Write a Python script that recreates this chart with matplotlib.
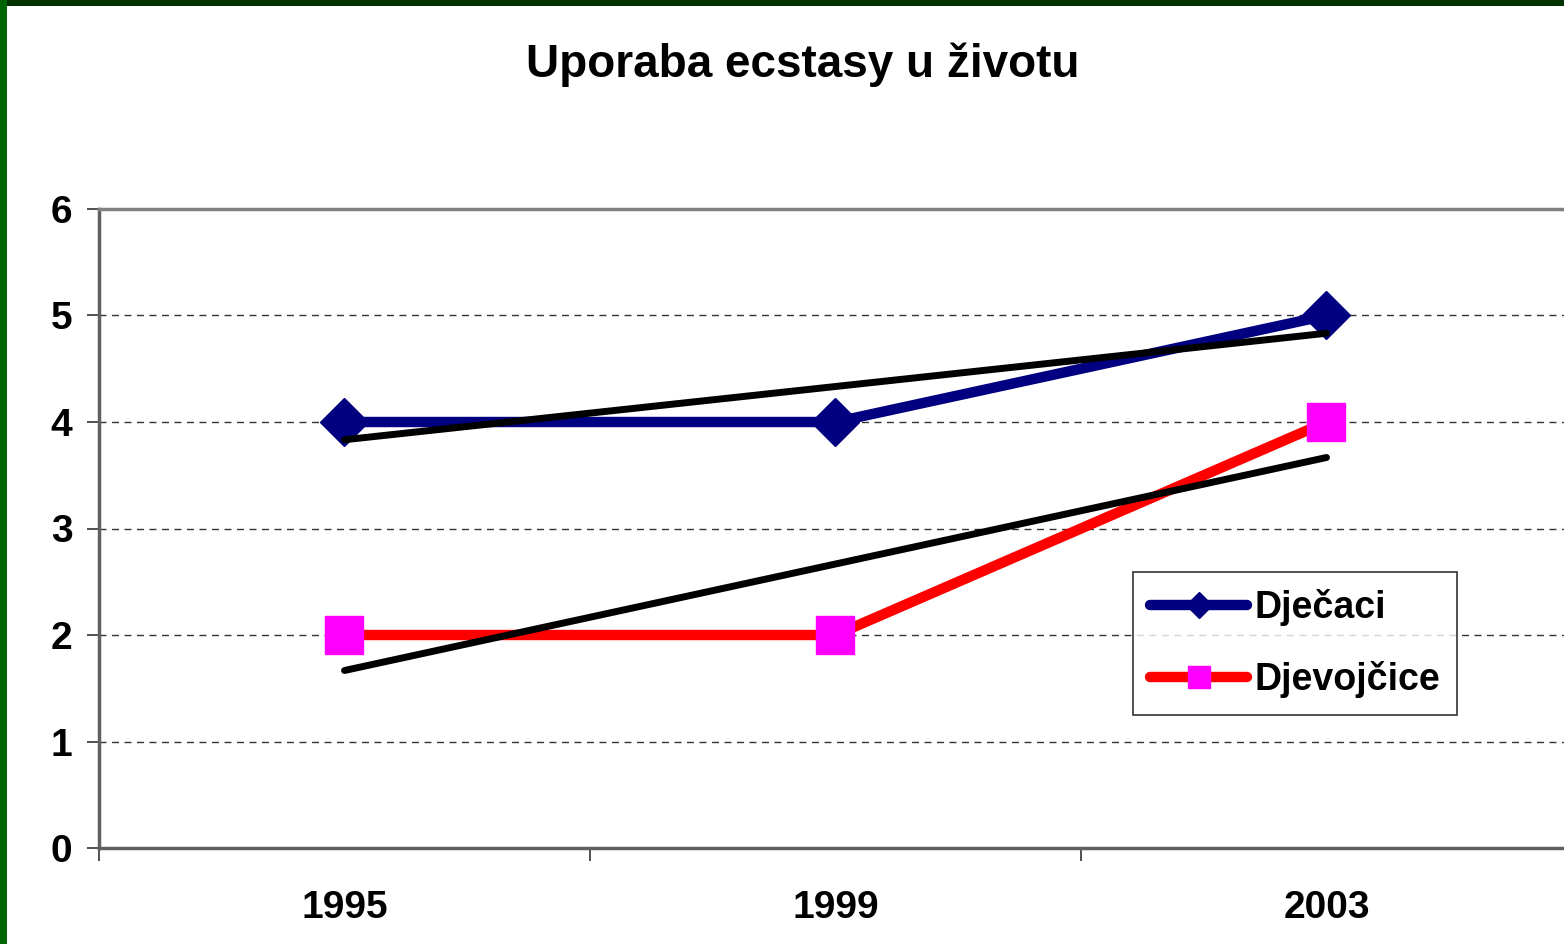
import matplotlib
matplotlib.use("Agg")
import matplotlib.pyplot as plt
from matplotlib.patches import Rectangle
import numpy as np

# data
years = ["1995", "1999", "2003"]
djecaci = [4, 4, 5]
djevojcice = [2, 2, 4]
y_ticks = [0, 1, 2, 3, 4, 5, 6]

plt.rcParams['font.family'] = ['Liberation Sans', 'DejaVu Sans']
plt.rcParams['font.weight'] = 'bold'


def draw():
    fig = plt.figure(figsize=(15.64, 9.44), dpi=100, facecolor='white')

    # slide frame (dark green strip on top and left)
    fig.patches.append(Rectangle((0, 1 - 6 / 944), 1, 6 / 944, transform=fig.transFigure,
                                 facecolor='#003300', edgecolor='none', zorder=0))
    fig.patches.append(Rectangle((0, 0), 7 / 1564, 1, transform=fig.transFigure,
                                 facecolor='#006400', edgecolor='none', zorder=0))

    ax = fig.add_axes([99 / 1564, 96 / 944, 1473 / 1564, 639 / 944])
    x = np.arange(1, len(years) + 1)

    # grid lines
    for v in y_ticks[1:-1]:
        ax.axhline(v, color='#333333', lw=1, ls=(0, (5, 4)), zorder=1)

    ax.plot(x, djecaci, color='#000080', lw=7.5, marker='D', ms=24,
            markerfacecolor='#000080', markeredgecolor='#000080',
            solid_capstyle='round', label='Dječaci', zorder=3)
    ax.plot(x, djevojcice, color='#ff0000', lw=7.5, marker='s', ms=28,
            markerfacecolor='#ff00ff', markeredgecolor='#ff00ff',
            solid_capstyle='round', label='Djevojčice', zorder=3)

    # linear trendlines
    for vals in (djecaci, djevojcice):
        k, b = np.polyfit(x, vals, 1)
        ax.plot(x, k * x + b, color='black', lw=5, solid_capstyle='round', zorder=4)

    ax.set_xlim(0.5, 3.5)
    ax.set_ylim(0, 6)
    ax.set_yticks(y_ticks)
    ax.set_yticklabels([str(v) for v in y_ticks], fontsize=28, fontweight='bold')
    ax.set_xticks(x)
    ax.set_xticklabels(years, fontsize=28, fontweight='bold')
    ax.set_xticks([0.5, 1.5, 2.5, 3.5], minor=True)
    ax.tick_params(axis='x', which='major', length=0, pad=30)
    ax.tick_params(axis='x', which='minor', length=9, width=1.2, color='#333333')
    ax.tick_params(axis='y', length=9, width=1.2, color='#333333', pad=10)

    for side in ('left', 'bottom', 'top'):
        ax.spines[side].set_color('#808080')
        ax.spines[side].set_linewidth(2.5)
    ax.spines['right'].set_visible(False)
    ax.spines['left'].set_color('#606060')
    ax.spines['bottom'].set_color('#606060')

    leg = ax.legend(loc='upper left', bbox_to_anchor=((1133 - 99) / 1473, (944 - 572 - 96) / 639),
                    fontsize=27, frameon=True, fancybox=False, edgecolor='black',
                    handlelength=2.6, handletextpad=0.2, borderpad=0.45, labelspacing=0.95,
                    markerscale=0.55, borderaxespad=0)
    leg.get_frame().set_linewidth(1.2)
    for t in leg.get_texts():
        t.set_fontweight('bold')

    fig.text(0.513, 1 - 65 / 944, 'Uporaba ecstasy u životu', ha='center', va='center',
             fontsize=33, fontweight='bold')

    fig.savefig('out.png', dpi=100, facecolor='white')
    plt.close(fig)


if __name__ == "__main__":
    draw()
